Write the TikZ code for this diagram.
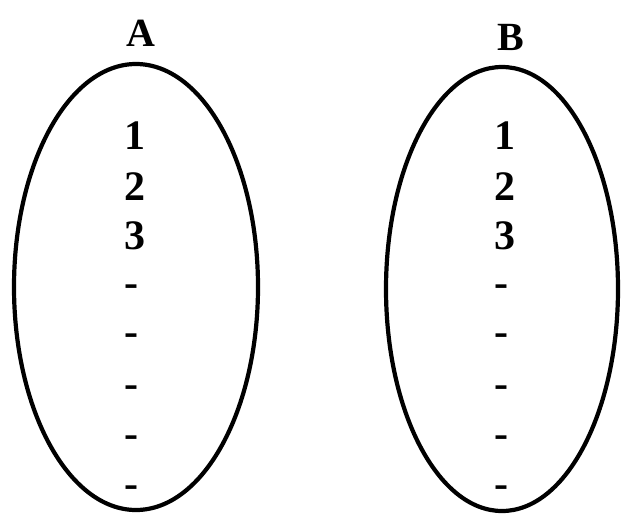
\documentclass[tikz,border=0pt]{standalone}
\usepackage{fontspec}
\setmainfont{Liberation Serif}
\begin{document}
\begin{tikzpicture}[x=1pt,y=-1pt,
  setoval/.style={draw=black,line width=4.2pt},
  setname/.style={font=\fontsize{40}{40}\selectfont\bfseries,inner sep=0pt},
  item/.style={font=\fontsize{42}{42}\selectfont\bfseries,inner sep=0pt}]
  \useasboundingbox (0,0) rectangle (621,515);
  % set A
  \node[setname] (la) at (141,33) {A};
  \draw[setoval] (136,287) ellipse [x radius=122, y radius=223];
  \node[item] (a1) at (135,136) {1};
  \node[item] (a2) at (135,187) {2};
  \node[item] (a3) at (135,236) {3};
  \node[item] (a4) at (131,291) {-};
  \node[item] (a5) at (131,340) {-};
  \node[item] (a6) at (131,392) {-};
  \node[item] (a7) at (131,442) {-};
  \node[item] (a8) at (131,492) {-};
  % set B
  \node[setname] (lb) at (511,37) {B};
  \draw[setoval] (502,289) ellipse [x radius=116, y radius=222];
  \node[item] (b1) at (505,136) {1};
  \node[item] (b2) at (505,187) {2};
  \node[item] (b3) at (505,236) {3};
  \node[item] (b4) at (501,291) {-};
  \node[item] (b5) at (501,340) {-};
  \node[item] (b6) at (501,392) {-};
  \node[item] (b7) at (501,442) {-};
  \node[item] (b8) at (501,492) {-};
\end{tikzpicture}
\end{document}
